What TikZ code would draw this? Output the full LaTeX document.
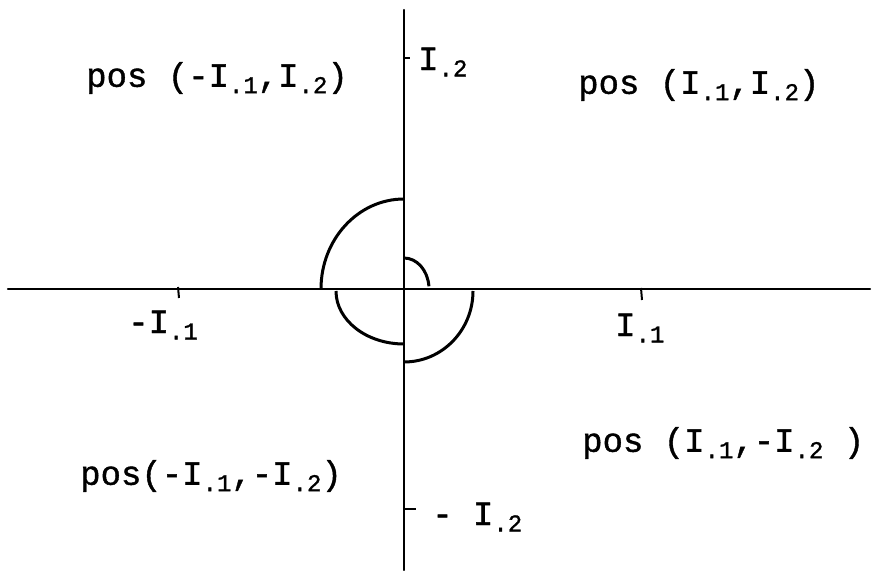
\documentclass[tikz,border=0pt]{standalone}
\usepackage{fontspec}
\setmainfont[FakeBold=1.2]{Liberation Mono}
\newcommand{\Isub}[1]{I{\fontsize{24}{24}\selectfont\raisebox{-0.5ex}{.#1}}}
\tikzset{
  axis/.style={line width=2.4pt, line cap=round},
  curve/.style={line width=3pt},
  tickmark/.style={line width=2pt},
  lab/.style={inner sep=0pt, anchor=west, font=\fontsize{34}{38}\selectfont},
}
\begin{document}
\begin{tikzpicture}[x=1pt,y=1pt]
\useasboundingbox (0,0) rectangle (888,570);
\coordinate (O) at (404,281);
\coordinate (xl) at (8,281);
\coordinate (xr) at (870,281);
\coordinate (yt) at (404,560);
\coordinate (yb) at (404,0);
\draw[axis] (xl) -- (xr);
\draw[axis] (yb) -- (yt);
% ticks
\coordinate (t1a) at (178,283); \coordinate (t1b) at (179,272);
\coordinate (t2a) at (641,282); \coordinate (t2b) at (642,270);
\coordinate (t3a) at (404,512); \coordinate (t3b) at (410,512);
\coordinate (t4a) at (404,61); \coordinate (t4b) at (416,61);
\draw[tickmark] (t1a) -- (t1b);
\draw[tickmark] (t2a) -- (t2b);
\draw[tickmark] (t3a) -- (t3b);
\draw[tickmark] (t4a) -- (t4b);
% curves
\coordinate (A) at (404,371);
\draw[curve] (A) arc[start angle=90, end angle=180, x radius=83, y radius=90];
\coordinate (B) at (404,312);
\draw[curve] (B) arc[start angle=90, end angle=5, x radius=25, y radius=31];
\coordinate (C) at (336,279);
\draw[curve] (C) arc[start angle=180, end angle=270, x radius=68, y radius=53];
\coordinate (D) at (473,279);
\draw[curve] (D) arc[start angle=0, end angle=-90, x radius=69, y radius=71];
% labels
\node[lab] (q2) at (86,492) {pos (-\Isub{1},\Isub{2})};
\node[lab] (q1) at (578,485) {pos (\Isub{1},\Isub{2})};
\node[lab] (q4) at (582,127) {pos (\Isub{1},-\Isub{2} )};
\node[lab] (q3) at (80,94) {pos(-\Isub{1},-\Isub{2})};
\node[lab] (xm) at (128,245) {-\Isub{1}};
\node[lab] (xp) at (615,242) {\Isub{1}};
\node[lab] (yp) at (418,508) {\Isub{2}};
\node[lab] (ym) at (432,53) {- \Isub{2}};
\end{tikzpicture}
\end{document}
